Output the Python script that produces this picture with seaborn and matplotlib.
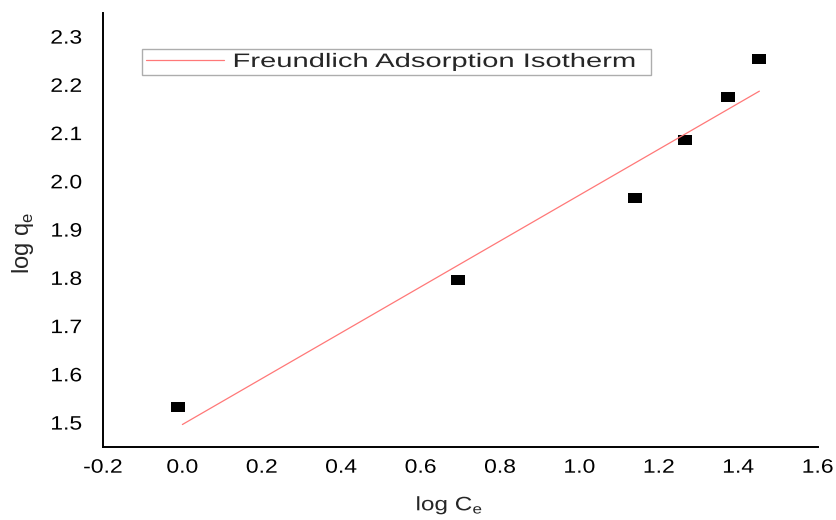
import matplotlib
matplotlib.use("Agg")
import matplotlib.pyplot as plt
import seaborn as sns
import pandas as pd
from matplotlib.patheffects import AbstractPathEffect
from matplotlib.transforms import Affine2D

# Data
log_ce = [-0.01, 0.695, 1.14, 1.265, 1.373, 1.453]
log_qe = [1.533, 1.796, 1.966, 2.087, 2.176, 2.254]

# Fitted line end points (Freundlich Adsorption Isotherm)
fit_x = [0.0, 1.453]
fit_y = [1.497, 2.188]

x_ticks = [-0.2, 0.0, 0.2, 0.4, 0.6, 0.8, 1.0, 1.2, 1.4, 1.6]
y_ticks = [1.5, 1.6, 1.7, 1.8, 1.9, 2.0, 2.1, 2.2, 2.3]


class HStretch(AbstractPathEffect):
    """Widen glyphs horizontally (the reference text is drawn wide)."""
    def __init__(self, sx, anchor="left"):
        super().__init__()
        self.sx = sx
        self.anchor = anchor

    def draw_path(self, renderer, gc, tpath, affine, rgbFace=None):
        ext = tpath.get_extents()
        if self.anchor == "center":
            cx = 0.5 * (ext.x0 + ext.x1)
        elif self.anchor == "right":
            cx = ext.x1
        else:
            cx = 0.0
        t = Affine2D().translate(-cx, 0).scale(self.sx, 1.0).translate(cx, 0)
        renderer.draw_path(gc, tpath, t + affine, rgbFace)


sns.set_theme(style="white")
plt.rcParams['font.family'] = ['Liberation Sans', 'DejaVu Sans']

fig = plt.figure(figsize=(8.37, 5.2), dpi=100)
ax = fig.add_axes([0.123, 0.140, 0.854, 0.835])

pts = pd.DataFrame({"x": log_ce, "y": log_qe})
fit = pd.DataFrame({"x": fit_x, "y": fit_y})

sns.lineplot(data=fit, x="x", y="y", ax=ax, color="#ff7878", linewidth=0.9,
             label="Freundlich Adsorption Isotherm")
rect = [(-1, -0.72), (1, -0.72), (1, 0.72), (-1, 0.72), (-1, -0.72)]
sns.scatterplot(data=pts, x="x", y="y", ax=ax, marker=rect, s=95,
                color="black", edgecolor="black", linewidth=0, legend=False)

ax.set_xlim(-0.2, 1.59)
ax.set_ylim(1.45, 2.35)
ax.set_xticks(x_ticks)
ax.set_yticks(y_ticks)
ax.set_xticklabels([f"{v:.1f}" for v in x_ticks])
ax.set_yticklabels([f"{v:.1f}" for v in y_ticks])
ax.tick_params(axis="both", length=0, labelsize=14, colors="black")
ax.tick_params(axis="y", pad=15)
ax.tick_params(axis="x", pad=9)
for lab in ax.get_yticklabels():
    lab.set_path_effects([HStretch(1.18, "right")])
for lab in ax.get_xticklabels():
    lab.set_path_effects([HStretch(1.18, "center")])

for s in ["top", "right"]:
    ax.spines[s].set_visible(False)
for s in ["left", "bottom"]:
    ax.spines[s].set_color("black")
    ax.spines[s].set_linewidth(1.4)

xl = ax.set_xlabel("log C$_\\mathregular{e}$", fontsize=14)
xl.set_path_effects([HStretch(1.25, "center")])
ax.xaxis.set_label_coords(0.485, -0.111)
ax.set_ylabel("log q$_\\mathregular{e}$", fontsize=17)
ax.yaxis.set_label_coords(-0.093, 0.47)

leg = ax.legend(loc="upper left", bbox_to_anchor=(0.0545, 0.85, 0.712, 0.066),
                mode="expand", borderaxespad=0, fontsize=14,
                frameon=True, fancybox=False, edgecolor="#999999",
                handlelength=4.0, borderpad=0.2, handletextpad=0.46)
leg.get_frame().set_linewidth(1.0)
for t in leg.get_texts():
    t.set_path_effects([HStretch(1.5, "left")])

fig.savefig("out.png", dpi=100, facecolor="white")
